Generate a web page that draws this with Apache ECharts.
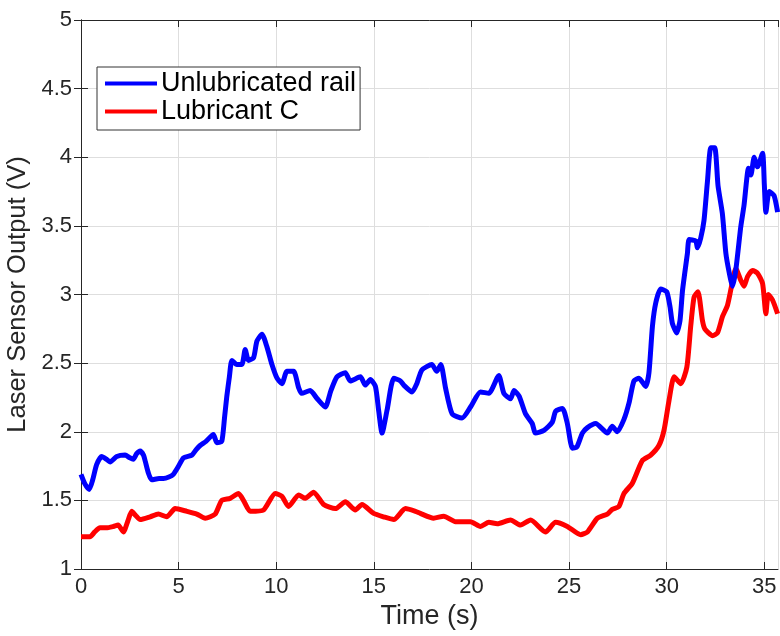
<!DOCTYPE html>
<html><head><meta charset="utf-8">
<script src="https://cdn.jsdelivr.net/npm/echarts@6/dist/echarts.min.js"></script>
<style>html,body{margin:0;padding:0;background:#fff}#c{width:780px;height:636px}</style>
</head><body><div id="c"></div>
<script>
const seriesNames = ['Unlubricated rail', 'Lubricant C'];
const xTicks = [0, 5, 10, 15, 20, 25, 30, 35];
const yTicks = [1, 1.5, 2, 2.5, 3, 3.5, 4, 4.5, 5];

const timeBlue = [0.0,0.2,0.42,0.6,0.8,1.06,1.3,1.49,1.83,2.26,2.5,2.68,2.85,3.03,3.2,3.3,3.45,3.62,4.0,4.22,4.5,4.73,5.0,5.25,5.68,5.9,6.1,6.4,6.78,6.96,7.21,7.35,7.47,7.6,7.73,7.98,8.24,8.41,8.58,8.84,9.01,9.27,9.52,9.78,10.04,10.29,10.55,10.89,11.15,11.3,11.74,12.1,12.51,12.8,13.11,13.54,13.79,14.31,14.56,14.82,15.08,15.25,15.42,15.68,16.02,16.36,16.53,16.96,17.2,17.46,17.97,18.22,18.43,18.67,19.01,19.52,19.95,20.46,20.89,21.4,21.66,22.0,22.18,22.44,22.77,23.11,23.28,23.71,24.14,24.31,24.66,24.91,25.17,25.4,25.68,25.94,26.36,26.96,27.21,27.47,27.81,28.07,28.32,28.58,28.92,29.09,29.27,29.44,29.69,30.0,30.17,30.29,30.51,30.68,30.81,31.06,31.15,31.49,31.57,31.74,31.91,32.09,32.26,32.46,32.63,32.85,33.03,33.2,33.37,33.54,33.79,33.96,34.19,34.31,34.48,34.65,34.91,35.0,35.08,35.25,35.5,35.68];
const valBlue = [1.69,1.62,1.58,1.65,1.76,1.82,1.80,1.78,1.82,1.83,1.81,1.80,1.84,1.86,1.83,1.78,1.70,1.65,1.66,1.66,1.67,1.69,1.75,1.81,1.83,1.87,1.90,1.93,1.98,1.92,1.93,2.10,2.26,2.40,2.52,2.49,2.49,2.60,2.52,2.54,2.66,2.71,2.62,2.49,2.39,2.35,2.44,2.44,2.32,2.28,2.30,2.24,2.18,2.30,2.40,2.43,2.37,2.40,2.34,2.38,2.33,2.15,1.99,2.16,2.39,2.37,2.34,2.29,2.35,2.45,2.49,2.44,2.49,2.32,2.13,2.10,2.18,2.29,2.28,2.41,2.28,2.24,2.30,2.26,2.13,2.06,1.99,2.01,2.07,2.15,2.17,2.06,1.88,1.89,1.99,2.03,2.06,1.99,2.04,2.00,2.09,2.21,2.37,2.39,2.33,2.43,2.77,2.94,3.04,3.02,2.91,2.79,2.72,2.81,3.03,3.30,3.40,3.39,3.34,3.41,3.54,3.83,4.07,4.07,3.79,3.59,3.30,3.16,3.06,3.18,3.49,3.65,3.92,3.87,4.00,3.93,4.03,3.80,3.60,3.75,3.72,3.60];

const timeRed = [0.0,0.46,0.7,0.97,1.3,1.66,1.9,2.17,2.4,2.6,2.8,3.03,3.54,3.96,4.39,4.82,5.42,5.93,6.36,6.87,7.21,7.64,8.07,8.32,8.67,9.35,9.95,10.29,10.63,11.15,11.49,11.91,12.43,13.03,13.54,14.05,14.39,14.99,15.5,16.02,16.62,17.13,17.38,18.06,18.58,19.18,19.95,20.46,20.89,21.32,22.0,22.51,23.03,23.79,24.31,24.91,25.59,25.94,26.45,26.96,27.21,27.55,27.81,28.24,28.75,29.18,29.6,29.86,30.12,30.38,30.72,31.03,31.23,31.4,31.6,31.83,31.95,32.35,32.6,32.86,33.11,33.32,33.54,33.79,33.96,34.14,34.4,34.65,34.91,35.08,35.2,35.42,35.68];
const valRed = [1.235,1.235,1.27,1.30,1.30,1.31,1.32,1.27,1.35,1.42,1.39,1.36,1.38,1.40,1.38,1.44,1.42,1.40,1.37,1.40,1.50,1.515,1.55,1.50,1.42,1.43,1.55,1.53,1.455,1.54,1.515,1.56,1.47,1.44,1.49,1.43,1.47,1.405,1.38,1.36,1.44,1.42,1.405,1.37,1.385,1.345,1.345,1.31,1.34,1.33,1.357,1.32,1.357,1.27,1.34,1.31,1.25,1.27,1.37,1.40,1.435,1.455,1.55,1.625,1.79,1.83,1.90,2.01,2.23,2.40,2.35,2.47,2.77,2.98,3.02,2.81,2.75,2.70,2.72,2.84,2.92,3.06,3.19,3.105,3.06,3.13,3.175,3.155,3.08,2.86,3.00,2.96,2.86];

const zip = (a, b) => a.map((t, i) => [t, b[i]]);
const FONT = 'Liberation Sans';
const AX = '#262626';
const xMin = xTicks[0], xMax = 35.7, yMin = yTicks[0], yMax = yTicks[yTicks.length - 1];

const xBase = {
  type: 'value', min: xMin, max: xMax, interval: 5,
  axisLine: { show: true, lineStyle: { color: AX, width: 1 } },
  axisTick: { show: true, inside: true, length: 7, lineStyle: { color: AX, width: 1 } },
  splitLine: { show: false }
};
const yBase = {
  type: 'value', min: yMin, max: yMax, interval: 0.5,
  axisLine: { show: true, lineStyle: { color: AX, width: 1 } },
  axisTick: { show: true, inside: true, length: 7, lineStyle: { color: AX, width: 1 } },
  splitLine: { show: false }
};

const chart = echarts.init(document.getElementById('c'), null, { renderer: 'canvas' });
chart.setOption({
  animation: false,
  backgroundColor: '#fff',
  textStyle: { fontFamily: FONT },
  grid: { left: 81, right: 2, top: 20, bottom: 67, containLabel: false, outerBoundsMode: 'none' },
  legend: {
    orient: 'vertical', left: 97, top: 67,
    padding: [3, 4, 5, 8], itemGap: 1,
    itemWidth: 52, itemHeight: 4, icon: 'rect',
    backgroundColor: '#fff', borderColor: '#333', borderWidth: 1,
    textStyle: { fontFamily: FONT, fontSize: 27, lineHeight: 27, color: '#000', padding: [0, 0, 0, -1] },
    data: seriesNames
  },
  xAxis: [
    Object.assign({}, xBase, {
      position: 'bottom',
      name: 'Time (s)', nameLocation: 'middle', nameGap: 30,
      nameTextStyle: { fontFamily: FONT, fontSize: 27, color: AX },
      axisLabel: { show: true, showMaxLabel: false, fontFamily: FONT, fontSize: 22, color: AX, margin: 7 },
      splitLine: { show: true, lineStyle: { color: '#dedede', width: 1 } }
    }),
    Object.assign({}, xBase, { position: 'top', axisLabel: { show: false } })
  ],
  yAxis: [
    Object.assign({}, yBase, {
      position: 'left',
      name: 'Laser Sensor Output (V)', nameLocation: 'middle', nameGap: 38,
      nameTextStyle: { fontFamily: FONT, fontSize: 25.5, color: AX },
      axisLabel: { show: true, fontFamily: FONT, fontSize: 22, color: AX, margin: 9,
        formatter: v => String(v) },
      splitLine: { show: true, lineStyle: { color: '#dedede', width: 1 } }
    }),
    Object.assign({}, yBase, { position: 'right', axisLabel: { show: false } })
  ],
  series: [
    { name: seriesNames[0], type: 'line', data: zip(timeBlue, valBlue), showSymbol: false, symbol: 'none',
      smooth: 0.2, lineStyle: { color: '#0000ff', width: 5 }, itemStyle: { color: '#0000ff' }, z: 3 },
    { name: seriesNames[1], type: 'line', data: zip(timeRed, valRed), showSymbol: false, symbol: 'none',
      smooth: 0.2, lineStyle: { color: '#ff0000', width: 5 }, itemStyle: { color: '#ff0000' }, z: 2 }
  ]
});
</script></body></html>
